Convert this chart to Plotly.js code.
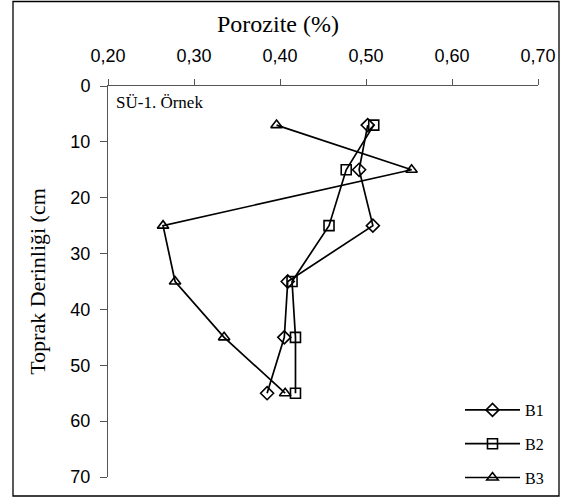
<!DOCTYPE html>
<html>
<head>
<meta charset="utf-8">
<script src="https://cdn.plot.ly/plotly-3.0.1.min.js"></script>
<style>
html,body{margin:0;padding:0;background:#fff;}
#chart{width:568px;height:500px;}
</style>
</head>
<body>
<div id="chart"></div>
<script>
// Data
var depths = [7, 15, 25, 35, 45, 55];
var B1 = [0.502, 0.492, 0.508, 0.409, 0.405, 0.385];
var B2 = [0.509, 0.477, 0.457, 0.414, 0.418, 0.418];
var B3 = [0.396, 0.553, 0.264, 0.278, 0.335, 0.406];
var seriesNames = ['B1', 'B2', 'B3'];
var xTicks = [0.20, 0.30, 0.40, 0.50, 0.60, 0.70];
var yTicks = [0, 10, 20, 30, 40, 50, 60, 70];

var serif = '"Times New Roman", "Liberation Serif", Times, serif';
var sans = 'Arial, "Liberation Sans", sans-serif';
var symbols = ['diamond-open', 'square-open', 'triangle-up-open'];
var seriesVals = [B1, B2, B3];

var traces = seriesVals.map(function (vals, i) {
  return {
    x: vals,
    y: depths,
    name: seriesNames[i],
    legendgroup: seriesNames[i],
    type: 'scatter',
    mode: 'lines+markers',
    line: {color: '#000', width: 1.7},
    marker: {symbol: symbols[i], size: 10, color: '#000', line: {color: '#000', width: 1.6}},
    cliponaxis: false
  };
});

// plot area: x 108..538, y 86..477
var L = 108, R = 568 - 538, T = 86, B = 500 - 477;
var pw = 568 - L - R, ph = 500 - T - B;
function px(x) { return (x - L) / pw; }
function py(y) { return (500 - B - y) / ph; }

var layout = {
  width: 568,
  height: 500,
  font: {family: serif, color: '#000'},
  margin: {l: L, r: R, t: T, b: B, pad: 0, autoexpand: false},
  paper_bgcolor: '#fff',
  plot_bgcolor: '#fff',
  separators: ',.',
  showlegend: true,
  title: {
    text: 'Porozite (%)',
    font: {family: serif, size: 24, color: '#000'},
    x: px(278), xref: 'paper', xanchor: 'center',
    y: 1 - 24 / 500, yref: 'container', yanchor: 'middle'
  },
  xaxis: {
    side: 'top',
    range: [0.2, 0.7],
    tickvals: xTicks,
    tickformat: '.2f',
    ticks: 'outside',
    ticklen: 6,
    tickcolor: '#555',
    tickwidth: 1,
    ticklabelstandoff: 10,
    showline: true,
    linecolor: '#555',
    linewidth: 1,
    showgrid: false,
    zeroline: false,
    tickfont: {family: sans, size: 18, color: '#000'}
  },
  yaxis: {
    range: [70, 0],
    tickvals: yTicks,
    ticks: 'outside',
    ticklen: 7,
    tickcolor: '#555',
    tickwidth: 1,
    ticklabelstandoff: 6,
    showline: true,
    linecolor: '#555',
    linewidth: 1,
    showgrid: false,
    zeroline: false,
    tickfont: {family: sans, size: 18, color: '#000'},
    title: {text: 'Toprak Derinliği (cm', font: {family: serif, size: 22, color: '#000'}, standoff: 18}
  },
  legend: {
    x: px(460), y: py(495), xanchor: 'left', yanchor: 'bottom',
    bgcolor: 'rgba(0,0,0,0)',
    font: {family: serif, size: 16, color: '#000'},
    traceorder: 'grouped',
    tracegroupgap: 10,
    itemwidth: 55
  },
  annotations: [{
    text: 'SÜ-1. Örnek',
    xref: 'paper', yref: 'paper',
    x: px(114), y: py(103),
    xanchor: 'left', yanchor: 'middle',
    showarrow: false,
    font: {family: serif, size: 17, color: '#000'}
  }],
  shapes: [{
    type: 'rect', xref: 'paper', yref: 'paper',
    x0: px(13), x1: px(559), y0: py(496), y1: py(1.5),
    line: {color: '#000', width: 1.3},
    fillcolor: 'rgba(0,0,0,0)',
    layer: 'above'
  }]
};

Plotly.newPlot('chart', traces, layout, {staticPlot: true, displayModeBar: false});
</script>
</body>
</html>
